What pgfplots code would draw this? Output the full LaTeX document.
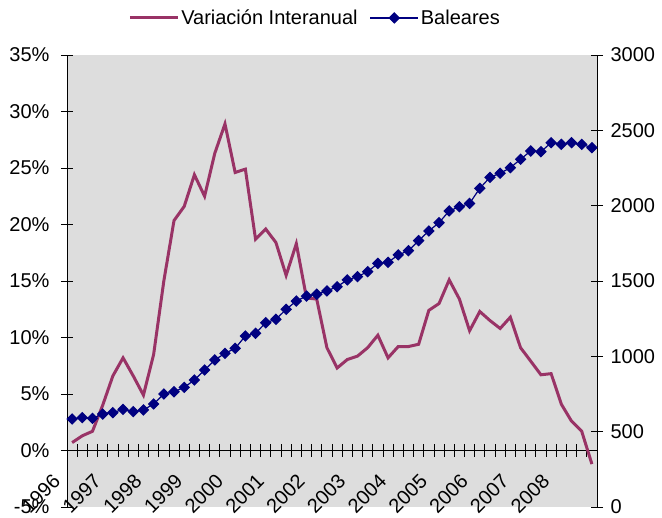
\documentclass[border=0pt]{standalone}
\usepackage{fontspec}
\setmainfont{Liberation Sans}
\usepackage{pgfplots}
\pgfplotsset{compat=1.18}
\definecolor{plum}{HTML}{993366}
\definecolor{navyb}{HTML}{000080}
\definecolor{bg}{HTML}{DDDDDD}

\pgfplotsset{
  chartbase/.style={
    scale only axis, width=530bp, height=452bp,
    xmin=0.5, xmax=52.5,
    font=\fontsize{20bp}{24bp}\selectfont,
    tick align=center, major tick length=12bp,
    /pgf/number format/assume math mode=true,
    /pgf/number format/1000 sep={},
    tick style={black, line width=0.8bp},
    axis line style={black, line width=0.8bp},
  },
  legend image code/.code={
    \draw[mark repeat=2, mark phase=2, #1] plot coordinates {(0bp,0bp) (24bp,0bp) (48bp,0bp)};
  },
}

\begin{document}
\begin{tikzpicture}
\path[use as bounding box] (-67bp,-11bp) rectangle (595bp,507bp);

% left axis: year-on-year change (%)
\begin{axis}[chartbase,
  ymin=-5, ymax=35,
  axis background/.style={fill=bg},
  axis x line*=middle, axis y line*=left,
  ytick={-5,0,5,10,15,20,25,30,35},
  yticklabels={-5\%,0\%,5\%,10\%,15\%,20\%,25\%,30\%,35\%},
  yticklabel style={xshift=-8bp},
  xtick={1.5,2.5,...,51.5}, xticklabels={},
  extra x ticks={1,5,9,13,17,21,25,29,33,37,41,45,49},
  extra x tick labels={1996,1997,1998,1999,2000,2001,2002,2003,2004,2005,2006,2007,2008},
  extra x tick style={tick style={draw=none},
    xticklabel style={xshift=-13bp, yshift=-19bp, rotate=45, anchor=east}},
  legend columns=2,
  legend style={at={(0.468,1.082)}, anchor=center, draw=none, fill=none,
    font=\fontsize{20bp}{24bp}\selectfont,
    /tikz/every even column/.append style={column sep=10bp}},
]
\addplot[plum, line width=3bp] coordinates {
(1,0.7) (2,1.3) (3,1.7) (4,4.0) (5,6.6) (6,8.2) (7,6.6) (8,4.9)
(9,8.5) (10,15.0) (11,20.35) (12,21.6) (13,24.4) (14,22.5) (15,26.3) (16,28.9)
(17,24.6) (18,24.9) (19,18.7) (20,19.6) (21,18.4) (22,15.5) (23,18.3) (24,13.5)
(25,13.4) (26,9.1) (27,7.3) (28,8.05) (29,8.35) (30,9.1) (31,10.2) (32,8.2)
(33,9.2) (34,9.2) (35,9.4) (36,12.4) (37,13.0) (38,15.1) (39,13.4) (40,10.6)
(41,12.3) (42,11.5) (43,10.8) (44,11.8) (45,9.1) (46,7.9) (47,6.7) (48,6.8)
(49,4.1) (50,2.6) (51,1.7) (52,-1.2)
};
\addlegendentry{Variación Interanual}
\addlegendimage{navyb, line width=1.2bp, mark=square*, mark size=3.5bp, mark options={rotate=45}}
\addlegendentry{Baleares}
\end{axis}

% right axis: Baleares
\begin{axis}[chartbase,
  ymin=0, ymax=3000,
  axis y line*=right, axis x line=none,
  ytick={0,500,1000,1500,2000,2500,3000},
  yticklabel style={xshift=4bp},
]
\addplot[navyb, line width=1.2bp, mark=square*, mark size=3.5bp, mark options={rotate=45}] coordinates {
(1,584) (2,593) (3,588) (4,617) (5,626) (6,648) (7,633) (8,644)
(9,684) (10,750) (11,765) (12,794) (13,843) (14,909) (15,976) (16,1020)
(17,1053) (18,1135) (19,1153) (20,1223) (21,1246) (22,1312) (23,1367) (24,1400)
(25,1412) (26,1434) (27,1462) (28,1507) (29,1529) (30,1562) (31,1617) (32,1624)
(33,1673) (34,1701) (35,1768) (36,1832) (37,1887) (38,1965) (39,1993) (40,2015)
(41,2115) (42,2188) (43,2215) (44,2252) (45,2308) (46,2363) (47,2358) (48,2418)
(49,2407) (50,2418) (51,2407) (52,2385)
};
\end{axis}
\end{tikzpicture}
\end{document}
